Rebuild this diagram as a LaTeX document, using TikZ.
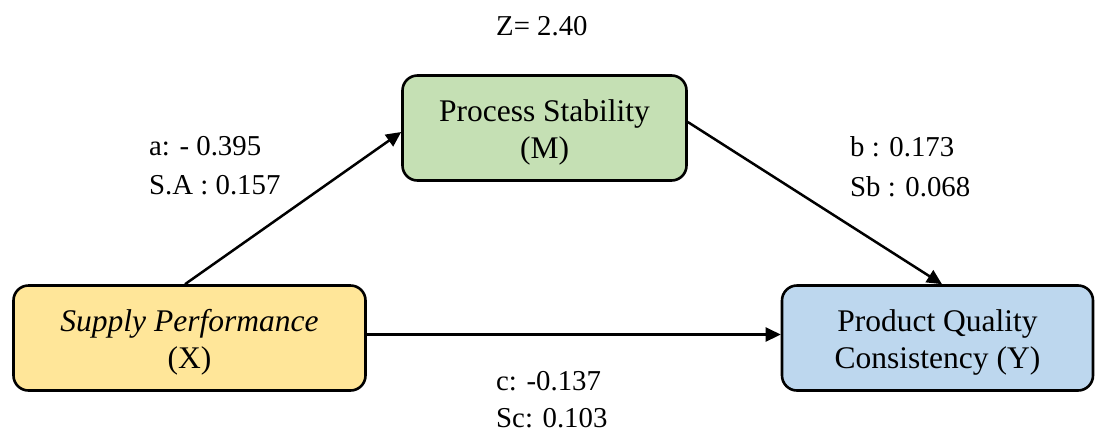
\documentclass[tikz,border=0pt]{standalone}
\usepackage{fontspec}
\setmainfont{Liberation Serif}
\usetikzlibrary{arrows.meta}
\definecolor{xfill}{HTML}{FFE699}
\definecolor{mfill}{HTML}{C5E0B4}
\definecolor{yfill}{HTML}{BDD7EE}
\tikzset{
  box/.style={draw=black, line width=2.6pt, rounded corners=15pt, inner sep=0pt},
  boxtext/.style={align=center, inner sep=0pt, font=\fontsize{31.5}{36.5}\selectfont},
  lbl/.style={anchor=base west, inner sep=0pt, font=\fontsize{28.8}{34}\selectfont},
  arr/.style={line width=2.5pt, -{Triangle[length=15pt,width=14pt]}}
}
\begin{document}
\begin{tikzpicture}[x=1pt,y=-1pt]
\useasboundingbox (0,0) rectangle (1095,432);
% boxes
\node[box, fill=xfill, minimum width=352pt, minimum height=105pt] (x) at (189.5,338) {};
\node[box, fill=mfill, minimum width=284pt, minimum height=105pt] (m) at (544.5,128) {};
\node[box, fill=yfill, minimum width=311pt, minimum height=105pt] (y) at (937.5,338) {};
\node[boxtext] (xt) at ([yshift=-4.5pt]x.center) {\textit{Supply Performance}\\(X)};
\node[boxtext] (mt) at ([yshift=-4.5pt]m.center) {Process Stability\\(M)};
\node[boxtext] (yt) at ([yshift=-4.5pt]y.center) {Product Quality\\Consistency (Y)};
% arrows
\draw[arr] ([xshift=-4.5pt]x.north) -- ([yshift=-4pt]m.west);
\draw[arr] ([yshift=6pt]m.east) -- ([xshift=4.5pt]y.north);
\draw[arr] ([yshift=3.5pt]x.east) -- ([yshift=3.5pt]y.west);
% labels
\node[lbl] (z) at (496,35) {Z= 2.40};
\node[lbl] (a1) at (149,155) {a: - 0.395};
\node[lbl] (a2) at (149,194) {S.A : 0.157};
\node[lbl] (b1) at (850,156.5) {b : 0.173};
\node[lbl] (b2) at (850,196.5) {Sb : 0.068};
\node[lbl] (c1) at (496,390) {c: -0.137};
\node[lbl] (c2) at (496,427) {Sc: 0.103};
\end{tikzpicture}
\end{document}
